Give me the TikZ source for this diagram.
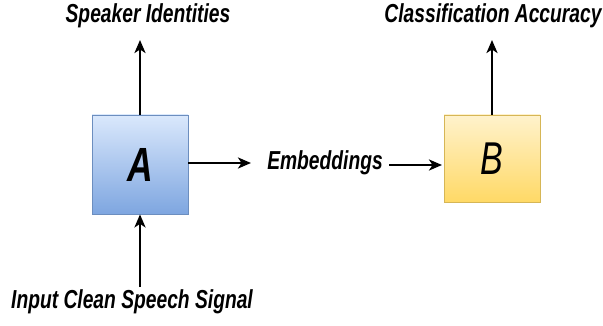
\documentclass[tikz,border=0pt]{standalone}
\usepackage{fontspec}
\setmainfont{Liberation Sans}[FakeStretch=0.74]
\usetikzlibrary{arrows.meta}
\definecolor{blueTop}{HTML}{DAE8FC}
\definecolor{blueBot}{HTML}{7EA6E0}
\definecolor{blueLine}{HTML}{6C8EBF}
\definecolor{yelTop}{HTML}{FFF2CC}
\definecolor{yelBot}{HTML}{FFD966}
\definecolor{yelLine}{HTML}{D6B656}
\tikzset{
  lbl/.style={font=\fontsize{26}{28}\selectfont\bfseries\itshape, inner sep=0pt},
  arr/.style={line width=2.6pt, -{Stealth[length=13pt,width=11pt,inset=3.5pt]}},
  boxA/.style={draw=blueLine, line width=0.8pt, top color=blueTop, bottom color=blueBot, minimum width=96pt, minimum height=99pt, inner sep=0pt},
  boxB/.style={draw=yelLine, line width=0.8pt, top color=yelTop, bottom color=yelBot, minimum width=96pt, minimum height=87pt, inner sep=0pt},
}
\begin{document}
\begin{tikzpicture}[x=1pt,y=-1pt]
\useasboundingbox (0,0) rectangle (603,326);
\node[boxA] (A) at (140,164.5) {\fontsize{48}{48}\selectfont\bfseries\itshape A};
\node[boxB] (B) at (492,158.5) {\fontsize{46}{46}\selectfont\itshape B};
\node[lbl] (spk) at (148,16) {Speaker Identities};
\node[lbl] (acc) at (493,16) {Classification Accuracy};
\node[lbl] (emb) at (325,163) {Embeddings};
\node[lbl] (inp) at (132,302) {Input Clean Speech Signal};
\coordinate (aTop) at (140,40);
\coordinate (bTop) at (492,40);
\coordinate (inBot) at (140,287);
\coordinate (e1) at (251,163);
\coordinate (e2) at (389,165);
\coordinate (e3) at (442,165);
\draw[arr] (A.north) -- (aTop);
\draw[arr] (B.north) -- (bTop);
\draw[arr] (inBot) -- (A.south);
\draw[arr] (A.east |- e1) -- (e1);
\draw[arr] (e2) -- (e3);
\end{tikzpicture}
\end{document}
